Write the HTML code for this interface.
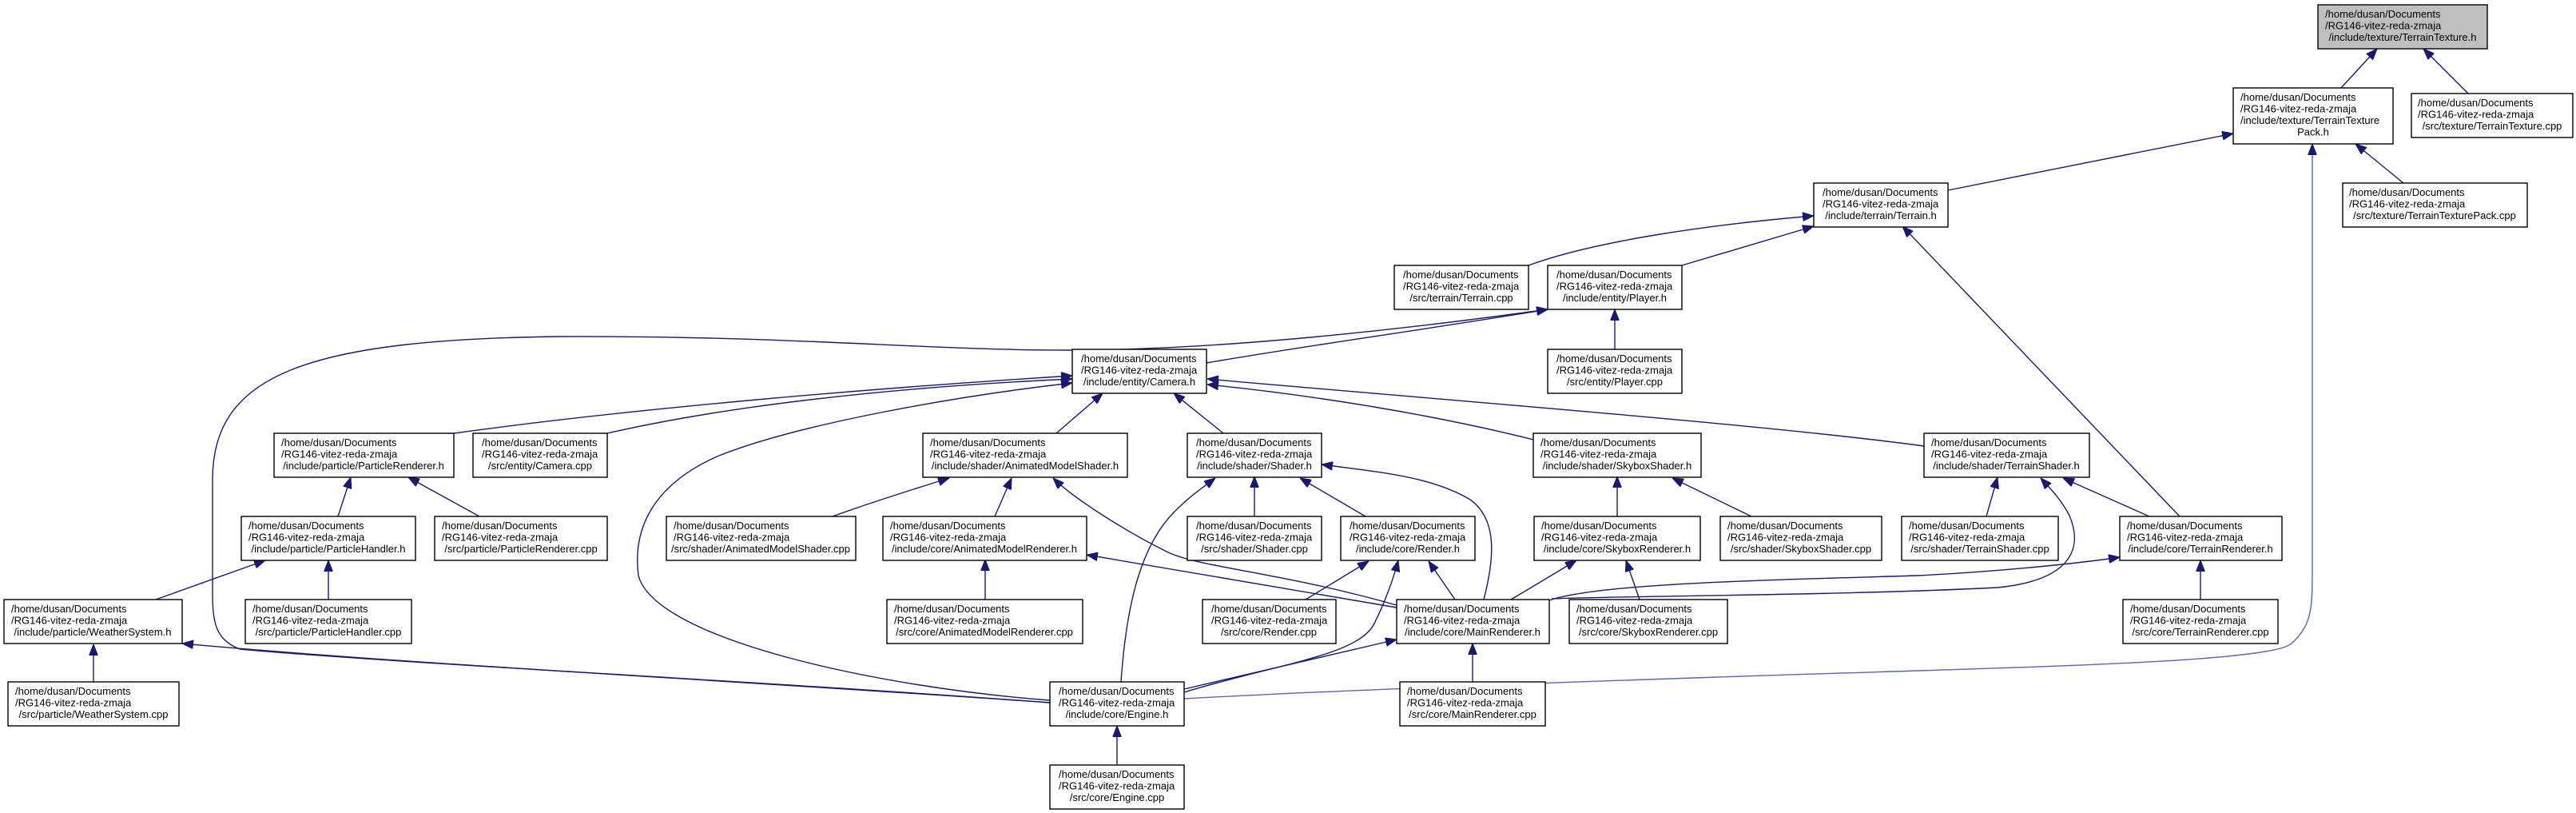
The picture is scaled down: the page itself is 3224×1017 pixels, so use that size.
<!DOCTYPE html>
<html><head><meta charset="utf-8"><style>
html,body{margin:0;padding:0;background:#fff;}
svg{display:block;}
text{font-family:"Liberation Sans",Arial,sans-serif;font-size:13px;fill:#000;}
.e{fill:none;stroke:#191970;stroke-width:1.4;}
.b{fill:#fff;stroke:#000;stroke-width:1.4;}
</style></head><body>
<svg width="3224" height="1017" viewBox="0 0 3224 1017" xmlns="http://www.w3.org/2000/svg">
<defs>
<marker id="a" markerUnits="userSpaceOnUse" markerWidth="14" markerHeight="11" refX="14" refY="5.5" orient="auto">
<path d="M0,0 L14,5.5 L0,11 z" fill="#191970" stroke="#191970"/>
</marker>
</defs>
<g marker-end="url(#a)">
<path class="e" d="M2930,110 L2975,61"/>
<path class="e" d="M3089,117 L3033,61"/>
<path class="e" d="M3008,229 L2948,180"/>
<path class="e" d="M2438,238 L2795,167"/>
<path class="e" style="stroke:#5a66a8" d="M1482,874 C1700,862 2000,852 2150,847 C2500,835 2840,830 2868,805 C2895,780 2894,760 2894,700 L2894,180"/>
<path class="e" d="M1913,332 C2000,300 2150,280 2270,270"/>
<path class="e" d="M2105,332 L2270,283"/>
<path class="e" d="M2728,646 L2381,283"/>
<path class="e" d="M2021,437 L2021,387"/>
<path class="e" d="M1510,454 C1650,430 1800,410 1937,387"/>
<path class="e" d="M1314,879 C1000,855 500,830 300,812 C270,800 266,780 266,740 L266,600 C266,470 380,425 700,421 C1000,420 1150,438 1335,438 C1500,438 1700,420 1937,387"/>
<path class="e" d="M568,542 C800,510 1100,485 1342,470"/>
<path class="e" d="M760,542 C900,510 1100,485 1342,474"/>
<path class="e" d="M1314,876 C1100,860 820,800 799,720 C790,650 830,600 900,570 C1000,530 1200,495 1342,479"/>
<path class="e" d="M1322,542 L1380,492"/>
<path class="e" d="M1531,542 L1469,492"/>
<path class="e" d="M1919,550 C1800,520 1650,495 1511,481"/>
<path class="e" d="M2408,558 C2200,530 1800,500 1511,474"/>
<path class="e" d="M423,646 L439,597"/>
<path class="e" d="M600,646 L511,597"/>
<path class="e" d="M195,750 L332,701"/>
<path class="e" d="M411,750 L411,701"/>
<path class="e" d="M117,855 L117,806"/>
<path class="e" d="M1314,879 C900,850 500,830 228,805"/>
<path class="e" d="M1042,646 C1100,625 1150,610 1188,598"/>
<path class="e" d="M1245,646 L1266,598"/>
<path class="e" d="M1748,757 C1600,715 1500,710 1460,690 C1400,660 1340,620 1318,598"/>
<path class="e" d="M1233,750 L1233,700"/>
<path class="e" d="M1748,760 L1360,694"/>
<path class="e" d="M1403,853 C1410,750 1430,680 1470,640 C1490,620 1505,610 1521,598"/>
<path class="e" d="M1570,646 L1570,596"/>
<path class="e" d="M1709,646 L1627,598"/>
<path class="e" d="M1857,750 C1870,700 1875,650 1840,625 C1790,595 1720,590 1654,581"/>
<path class="e" d="M1634,750 L1713,702"/>
<path class="e" d="M1482,866 C1600,830 1700,820 1720,780 C1735,750 1745,720 1750,701"/>
<path class="e" d="M1821,750 L1788,702"/>
<path class="e" d="M2024,646 L2024,596"/>
<path class="e" d="M2192,646 L2093,598"/>
<path class="e" d="M1891,750 L1973,701"/>
<path class="e" d="M2052,750 L2035,701"/>
<path class="e" d="M1939,751 C2000,730 2200,726 2400,720 C2500,715 2600,705 2653,697"/>
<path class="e" d="M1942,749 C2050,745 2300,745 2500,735 C2600,725 2605,680 2590,645 C2580,625 2565,610 2554,598"/>
<path class="e" d="M1482,862 L1748,800"/>
<path class="e" d="M1843,853 L1843,805"/>
<path class="e" d="M1398,957 L1398,908"/>
<path class="e" d="M2486,646 L2500,597"/>
<path class="e" d="M2690,646 L2582,598"/>
<path class="e" d="M2754,750 L2754,701"/>
</g>

<rect x="2901" y="6" width="212" height="55" fill="#bfbfbf" stroke="#000" stroke-width="1.4"/>
<text x="2910" y="22">/home/dusan/Documents</text><text x="2910" y="36.5">/RG146-vitez-reda-zmaja</text><text x="3007" y="51" text-anchor="middle">/include/texture/TerrainTexture.h</text>

<rect class="b" x="2795" y="110" width="200" height="70"/>
<text x="2804" y="126">/home/dusan/Documents</text><text x="2804" y="140.5">/RG146-vitez-reda-zmaja</text><text x="2804" y="155">/include/texture/TerrainTexture</text><text x="2895" y="169.5" text-anchor="middle">Pack.h</text>

<rect class="b" x="3018" y="117" width="202" height="55"/>
<text x="3026" y="133">/home/dusan/Documents</text><text x="3026" y="147.5">/RG146-vitez-reda-zmaja</text><text x="3119" y="162" text-anchor="middle">/src/texture/TerrainTexture.cpp</text>

<rect class="b" x="2932" y="229" width="231" height="55"/>
<text x="2940" y="245">/home/dusan/Documents</text><text x="2940" y="259.5">/RG146-vitez-reda-zmaja</text><text x="3047" y="274" text-anchor="middle">/src/texture/TerrainTexturePack.cpp</text>

<rect class="b" x="2270" y="229" width="168" height="55"/>
<text x="2281" y="245">/home/dusan/Documents</text><text x="2281" y="259.5">/RG146-vitez-reda-zmaja</text><text x="2354" y="274" text-anchor="middle">/include/terrain/Terrain.h</text>

<rect class="b" x="1745" y="332" width="168" height="55"/>
<text x="1756" y="348">/home/dusan/Documents</text><text x="1756" y="362.5">/RG146-vitez-reda-zmaja</text><text x="1829" y="377" text-anchor="middle">/src/terrain/Terrain.cpp</text>

<rect class="b" x="1937" y="332" width="168" height="55"/>
<text x="1948" y="348">/home/dusan/Documents</text><text x="1948" y="362.5">/RG146-vitez-reda-zmaja</text><text x="2021" y="377" text-anchor="middle">/include/entity/Player.h</text>

<rect class="b" x="1342" y="437" width="168" height="55"/>
<text x="1353" y="453">/home/dusan/Documents</text><text x="1353" y="467.5">/RG146-vitez-reda-zmaja</text><text x="1426" y="482" text-anchor="middle">/include/entity/Camera.h</text>

<rect class="b" x="1937" y="437" width="168" height="55"/>
<text x="1948" y="453">/home/dusan/Documents</text><text x="1948" y="467.5">/RG146-vitez-reda-zmaja</text><text x="2021" y="482" text-anchor="middle">/src/entity/Player.cpp</text>

<rect class="b" x="343" y="542" width="225" height="55"/>
<text x="352" y="558">/home/dusan/Documents</text><text x="352" y="572.5">/RG146-vitez-reda-zmaja</text><text x="455" y="587" text-anchor="middle">/include/particle/ParticleRenderer.h</text>

<rect class="b" x="592" y="542" width="168" height="55"/>
<text x="603" y="558">/home/dusan/Documents</text><text x="603" y="572.5">/RG146-vitez-reda-zmaja</text><text x="676" y="587" text-anchor="middle">/src/entity/Camera.cpp</text>

<rect class="b" x="1155" y="542" width="256" height="55"/>
<text x="1164" y="558">/home/dusan/Documents</text><text x="1164" y="572.5">/RG146-vitez-reda-zmaja</text><text x="1283" y="587" text-anchor="middle">/include/shader/AnimatedModelShader.h</text>

<rect class="b" x="1486" y="542" width="168" height="55"/>
<text x="1497" y="558">/home/dusan/Documents</text><text x="1497" y="572.5">/RG146-vitez-reda-zmaja</text><text x="1570" y="587" text-anchor="middle">/include/shader/Shader.h</text>

<rect class="b" x="1919" y="542" width="210" height="55"/>
<text x="1928" y="558">/home/dusan/Documents</text><text x="1928" y="572.5">/RG146-vitez-reda-zmaja</text><text x="2024" y="587" text-anchor="middle">/include/shader/SkyboxShader.h</text>

<rect class="b" x="2408" y="542" width="207" height="55"/>
<text x="2417" y="558">/home/dusan/Documents</text><text x="2417" y="572.5">/RG146-vitez-reda-zmaja</text><text x="2511" y="587" text-anchor="middle">/include/shader/TerrainShader.h</text>

<rect class="b" x="302" y="646" width="218" height="55"/>
<text x="311" y="662">/home/dusan/Documents</text><text x="311" y="676.5">/RG146-vitez-reda-zmaja</text><text x="411" y="691" text-anchor="middle">/include/particle/ParticleHandler.h</text>

<rect class="b" x="544" y="646" width="216" height="55"/>
<text x="553" y="662">/home/dusan/Documents</text><text x="553" y="676.5">/RG146-vitez-reda-zmaja</text><text x="652" y="691" text-anchor="middle">/src/particle/ParticleRenderer.cpp</text>

<rect class="b" x="834" y="646" width="237" height="55"/>
<text x="843" y="662">/home/dusan/Documents</text><text x="843" y="676.5">/RG146-vitez-reda-zmaja</text><text x="952" y="691" text-anchor="middle">/src/shader/AnimatedModelShader.cpp</text>

<rect class="b" x="1105" y="646" width="255" height="55"/>
<text x="1114" y="662">/home/dusan/Documents</text><text x="1114" y="676.5">/RG146-vitez-reda-zmaja</text><text x="1232" y="691" text-anchor="middle">/include/core/AnimatedModelRenderer.h</text>

<rect class="b" x="1486" y="646" width="168" height="55"/>
<text x="1497" y="662">/home/dusan/Documents</text><text x="1497" y="676.5">/RG146-vitez-reda-zmaja</text><text x="1570" y="691" text-anchor="middle">/src/shader/Shader.cpp</text>

<rect class="b" x="1678" y="646" width="168" height="55"/>
<text x="1689" y="662">/home/dusan/Documents</text><text x="1689" y="676.5">/RG146-vitez-reda-zmaja</text><text x="1762" y="691" text-anchor="middle">/include/core/Render.h</text>

<rect class="b" x="1920" y="646" width="208" height="55"/>
<text x="1929" y="662">/home/dusan/Documents</text><text x="1929" y="676.5">/RG146-vitez-reda-zmaja</text><text x="2024" y="691" text-anchor="middle">/include/core/SkyboxRenderer.h</text>

<rect class="b" x="2153" y="646" width="202" height="55"/>
<text x="2162" y="662">/home/dusan/Documents</text><text x="2162" y="676.5">/RG146-vitez-reda-zmaja</text><text x="2254" y="691" text-anchor="middle">/src/shader/SkyboxShader.cpp</text>

<rect class="b" x="2380" y="646" width="196" height="55"/>
<text x="2389" y="662">/home/dusan/Documents</text><text x="2389" y="676.5">/RG146-vitez-reda-zmaja</text><text x="2478" y="691" text-anchor="middle">/src/shader/TerrainShader.cpp</text>

<rect class="b" x="2653" y="646" width="203" height="55"/>
<text x="2662" y="662">/home/dusan/Documents</text><text x="2662" y="676.5">/RG146-vitez-reda-zmaja</text><text x="2754" y="691" text-anchor="middle">/include/core/TerrainRenderer.h</text>

<rect class="b" x="5" y="750" width="223" height="55"/>
<text x="14" y="766">/home/dusan/Documents</text><text x="14" y="780.5">/RG146-vitez-reda-zmaja</text><text x="116" y="795" text-anchor="middle">/include/particle/WeatherSystem.h</text>

<rect class="b" x="307" y="750" width="208" height="55"/>
<text x="316" y="766">/home/dusan/Documents</text><text x="316" y="780.5">/RG146-vitez-reda-zmaja</text><text x="411" y="795" text-anchor="middle">/src/particle/ParticleHandler.cpp</text>

<rect class="b" x="1110" y="750" width="245" height="55"/>
<text x="1119" y="766">/home/dusan/Documents</text><text x="1119" y="780.5">/RG146-vitez-reda-zmaja</text><text x="1232" y="795" text-anchor="middle">/src/core/AnimatedModelRenderer.cpp</text>

<rect class="b" x="1505" y="750" width="167" height="55"/>
<text x="1516" y="766">/home/dusan/Documents</text><text x="1516" y="780.5">/RG146-vitez-reda-zmaja</text><text x="1588" y="795" text-anchor="middle">/src/core/Render.cpp</text>

<rect class="b" x="1748" y="750" width="191" height="55"/>
<text x="1757" y="766">/home/dusan/Documents</text><text x="1757" y="780.5">/RG146-vitez-reda-zmaja</text><text x="1843" y="795" text-anchor="middle">/include/core/MainRenderer.h</text>

<rect class="b" x="1964" y="750" width="198" height="55"/>
<text x="1973" y="766">/home/dusan/Documents</text><text x="1973" y="780.5">/RG146-vitez-reda-zmaja</text><text x="2063" y="795" text-anchor="middle">/src/core/SkyboxRenderer.cpp</text>

<rect class="b" x="2657" y="750" width="194" height="55"/>
<text x="2666" y="766">/home/dusan/Documents</text><text x="2666" y="780.5">/RG146-vitez-reda-zmaja</text><text x="2754" y="795" text-anchor="middle">/src/core/TerrainRenderer.cpp</text>

<rect class="b" x="10" y="853" width="214" height="55"/>
<text x="19" y="869">/home/dusan/Documents</text><text x="19" y="883.5">/RG146-vitez-reda-zmaja</text><text x="117" y="898" text-anchor="middle">/src/particle/WeatherSystem.cpp</text>

<rect class="b" x="1314" y="853" width="168" height="55"/>
<text x="1325" y="869">/home/dusan/Documents</text><text x="1325" y="883.5">/RG146-vitez-reda-zmaja</text><text x="1398" y="898" text-anchor="middle">/include/core/Engine.h</text>

<rect class="b" x="1752" y="853" width="182" height="55"/>
<text x="1761" y="869">/home/dusan/Documents</text><text x="1761" y="883.5">/RG146-vitez-reda-zmaja</text><text x="1843" y="898" text-anchor="middle">/src/core/MainRenderer.cpp</text>

<rect class="b" x="1314" y="957" width="168" height="55"/>
<text x="1325" y="973">/home/dusan/Documents</text><text x="1325" y="987.5">/RG146-vitez-reda-zmaja</text><text x="1398" y="1002" text-anchor="middle">/src/core/Engine.cpp</text>
</svg>
</body></html>
